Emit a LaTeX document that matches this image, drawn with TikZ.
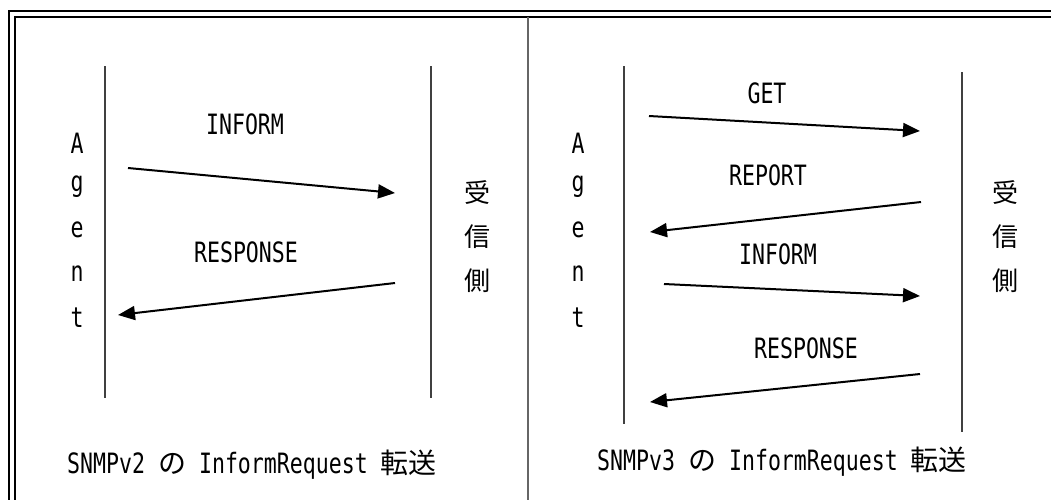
\documentclass[tikz,border=0pt]{standalone}
\usepackage{fontspec}
\usetikzlibrary{arrows.meta}
\newfontfamily\halffont[FakeStretch=0.77]{DejaVu Sans Mono}
\newfontfamily\jpfont{Noto Sans CJK JP}

\begin{document}
\begin{tikzpicture}[x=1pt,y=-1pt,
  lbl/.style={font=\halffont\fontsize{28}{30}\selectfont, inner sep=0pt},
  jlbl/.style={font=\jpfont\fontsize{26}{30}\selectfont, inner sep=0pt},
  life/.style={black!75, line width=1.2pt},
  msg/.style={black, line width=2pt, -{Triangle[length=17pt,width=14pt]}}]
\useasboundingbox (0,0) rectangle (1051,499);
\clip (0,0) rectangle (1051,499);
% frame
\draw[line width=2pt] (9,510) -- (9,11) -- (1060,11);
\draw[line width=2pt] (15,510) -- (15,17) -- (1060,17);
\draw[black!60, line width=2pt] (528,17) -- (528,510);

% SNMPv2 side
\coordinate (agL1) at (105,66);
\coordinate (agL2) at (105,398);
\coordinate (rxL1) at (431,66);
\coordinate (rxL2) at (431,398);
\draw[life] (agL1) -- (agL2);
\draw[life] (rxL1) -- (rxL2);
\node[lbl] (aL1) at (77,143) {A};
\node[lbl] (aL2) at (77,187) {g};
\node[lbl] (aL3) at (77,230) {e};
\node[lbl] (aL4) at (77,274) {n};
\node[lbl] (aL5) at (77,318) {t};
\node[jlbl] (jL1) at (477,193) {受};
\node[jlbl] (jL2) at (477,237) {信};
\node[jlbl] (jL3) at (477,281) {側};
\node[lbl] (informL) at (245,124) {INFORM};
\node[lbl] (respL) at (246,252) {RESPONSE};
\coordinate (mL1a) at (128,168);
\coordinate (mL1b) at (395,193);
\coordinate (mL2a) at (395,283);
\coordinate (mL2b) at (118,315);
\draw[msg] (mL1a) -- (mL1b);
\draw[msg] (mL2a) -- (mL2b);
\node[lbl] (capL) at (252,465) {SNMPv2 {\jpfont の} InformRequest {\jpfont 転送}};

% SNMPv3 side
\coordinate (agR1) at (624,66);
\coordinate (agR2) at (624,424);
\coordinate (rxR1) at (962,72);
\coordinate (rxR2) at (962,432);
\draw[life] (agR1) -- (agR2);
\draw[life] (rxR1) -- (rxR2);
\node[lbl] (aR1) at (578,143) {A};
\node[lbl] (aR2) at (578,187) {g};
\node[lbl] (aR3) at (578,230) {e};
\node[lbl] (aR4) at (578,274) {n};
\node[lbl] (aR5) at (578,318) {t};
\node[jlbl] (jR1) at (1005,193) {受};
\node[jlbl] (jR2) at (1005,237) {信};
\node[jlbl] (jR3) at (1005,281) {側};
\node[lbl] (getR) at (767,93) {GET};
\node[lbl] (reportR) at (768,175) {REPORT};
\node[lbl] (informR) at (778,254) {INFORM};
\node[lbl] (respR) at (806,348) {RESPONSE};
\coordinate (mR1a) at (649,116);
\coordinate (mR1b) at (920,131);
\coordinate (mR2a) at (921,202);
\coordinate (mR2b) at (650,232);
\coordinate (mR3a) at (664,284);
\coordinate (mR3b) at (920,296);
\coordinate (mR4a) at (920,374);
\coordinate (mR4b) at (650,402);
\draw[msg] (mR1a) -- (mR1b);
\draw[msg] (mR2a) -- (mR2b);
\draw[msg] (mR3a) -- (mR3b);
\draw[msg] (mR4a) -- (mR4b);
\node[lbl] (capR) at (782,462) {SNMPv3 {\jpfont の} InformRequest {\jpfont 転送}};
\end{tikzpicture}
\end{document}
